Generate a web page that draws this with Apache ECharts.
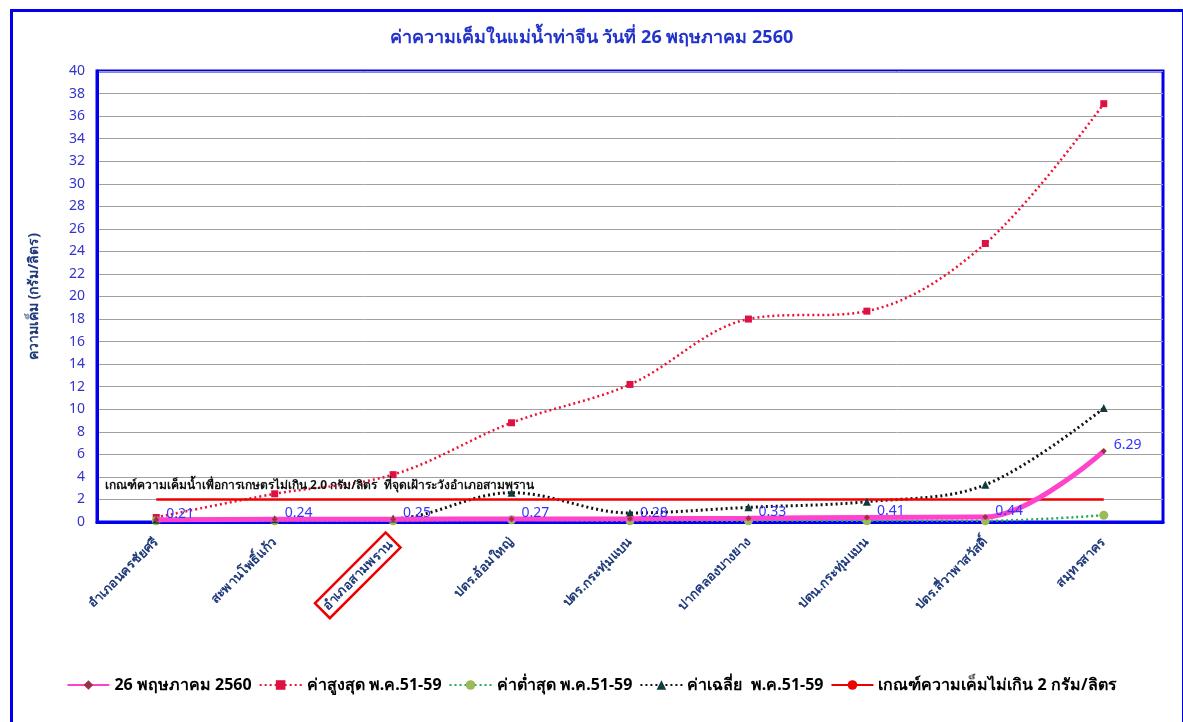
<!DOCTYPE html>
<html>
<head>
<meta charset="utf-8">
<script src="https://cdn.jsdelivr.net/npm/echarts@6/dist/echarts.min.js"></script>
<style>
html,body{margin:0;padding:0;background:#fff;}
#chart{width:1183px;height:722px;}
</style>
</head>
<body>
<div id="chart"></div>
<script>
const categories = ['อำเภอนครชัยศรี','สะพานโพธิ์แก้ว','อำเภอสามพราน','ปตร.อ้อมใหญ่','ปตร.กระทุ่มแบน','ปากคลองบางยาง','ปตน.กระทุ่มแบน','ปตร.สี่วาพาสวัสดิ์','สมุทรสาคร'];
const today = [0.21, 0.24, 0.25, 0.27, 0.28, 0.33, 0.41, 0.44, 6.29];
const maxVals = [0.4, 2.5, 4.2, 8.8, 12.2, 18.0, 18.7, 24.7, 37.1];
const minVals = [0.1, 0.1, 0.1, 0.2, 0.1, 0.1, 0.1, 0.1, 0.6];
const avgVals = [0.2, 0.25, 0.3, 2.6, 0.8, 1.3, 1.8, 3.3, 10.1];
const threshold = [2, 2, 2, 2, 2, 2, 2, 2, 2];
const seriesNames = ['26 พฤษภาคม 2560','ค่าสูงสุด พ.ค.51-59','ค่าต่ำสุด พ.ค.51-59','ค่าเฉลี่ย  พ.ค.51-59','เกณฑ์ความเค็มไม่เกิน 2 กรัม/ลิตร'];
const titleText = 'ค่าความเค็มในแม่น้ำท่าจีน วันที่ 26 พฤษภาคม 2560';
const yAxisName = 'ความเค็ม (กรัม/ลิตร)';
const noteText = 'เกณฑ์ความเค็มน้ำเพื่อการเกษตรไม่เกิน 2.0 กรัม/ลิตร  ที่จุดเฝ้าระวังอำเภอสามพราน';
const highlightIndex = 2;

const FONT = 'Tahoma, "Noto Sans", "DejaVu Sans", sans-serif';
const chart = echarts.init(document.getElementById('chart'));
chart.setOption({
  backgroundColor: '#ffffff',
  textStyle: {fontFamily: FONT},
  title: {
    text: titleText, left: 'center', top: 24,
    textStyle: {color: '#2233CC', fontSize: 18, fontWeight: 'bold', fontFamily: FONT}
  },
  graphic: [
    {type: 'rect', left: 9, top: 8, shape: {width: 1172, height: 720}, style: {fill: 'none', stroke: '#0000EE', lineWidth: 3}, silent: true},
    {type: 'text', left: 105, top: 480, style: {text: noteText, fill: '#111', font: 'bold 12px ' + FONT}, z: 10}
  ],
  grid: {left: 97, right: 20, top: 71, bottom: 200, show: true, borderColor: '#0000EE', borderWidth: 3},
  legend: {
    bottom: 24, left: 'center', itemWidth: 42, itemHeight: 12, itemGap: 7,
    textStyle: {color: '#000', fontSize: 16, fontWeight: 'bold', fontFamily: FONT},
    data: seriesNames
  },
  xAxis: {
    type: 'category', data: categories, boundaryGap: true,
    axisLine: {show: true, lineStyle: {color: '#0000EE', width: 3}},
    axisTick: {show: false},
    axisLabel: {
      rotate: 45, color: '#1F3A7A', fontSize: 13, fontWeight: 'bold', margin: 18, interval: 0,
      formatter: function (v, i) { return i === highlightIndex ? '{box|' + v + '}' : v; },
      rich: {box: {borderColor: '#EE0000', borderWidth: 2.5, padding: [4, 4], color: '#1F3A7A', fontSize: 13, fontWeight: 'bold'}}
    }
  },
  yAxis: {
    type: 'value', min: 0, max: 40, interval: 2,
    name: yAxisName, nameLocation: 'middle', nameGap: 56, nameRotate: 90,
    nameTextStyle: {color: '#1F3A7A', fontSize: 14, fontWeight: 'bold'},
    axisLine: {show: true, lineStyle: {color: '#0000EE', width: 3}},
    axisTick: {show: false},
    axisLabel: {color: '#3333CC', fontSize: 14, margin: 12},
    splitLine: {lineStyle: {color: '#A0A0A0', width: 1}}
  },
  series: [
    {
      name: seriesNames[0], type: 'line', data: today, smooth: 0.35, z: 5,
      lineStyle: {color: '#FF44CC', width: 5},
      itemStyle: {color: '#993344'}, symbol: 'diamond', symbolSize: 6,
      label: {show: true, position: 'right', offset: [2, -6], color: '#3333FF', fontSize: 14,
        formatter: p => p.value.toFixed(2)}
    },
    {
      name: seriesNames[1], type: 'line', data: maxVals, smooth: 0.35,
      lineStyle: {color: '#EE1133', width: 2.5, type: [2, 3]},
      itemStyle: {color: '#DD1144'}, symbol: 'rect', symbolSize: 7
    },
    {
      name: seriesNames[2], type: 'line', data: minVals, smooth: 0.35,
      lineStyle: {color: '#22AA55', width: 2.5, type: [2, 3]},
      itemStyle: {color: '#9BBB59'}, symbol: 'circle', symbolSize: 9
    },
    {
      name: seriesNames[3], type: 'line', data: avgVals, smooth: 0.35,
      lineStyle: {color: '#111111', width: 3, type: [2, 3]},
      itemStyle: {color: '#0E3B3B'}, symbol: 'triangle', symbolSize: 8
    },
    {
      name: seriesNames[4], type: 'line', data: threshold, smooth: false,
      lineStyle: {color: '#EE0000', width: 2.5},
      itemStyle: {color: '#EE0000'}, symbol: 'none'
    }
  ]
});
</script>
</body>
</html>
